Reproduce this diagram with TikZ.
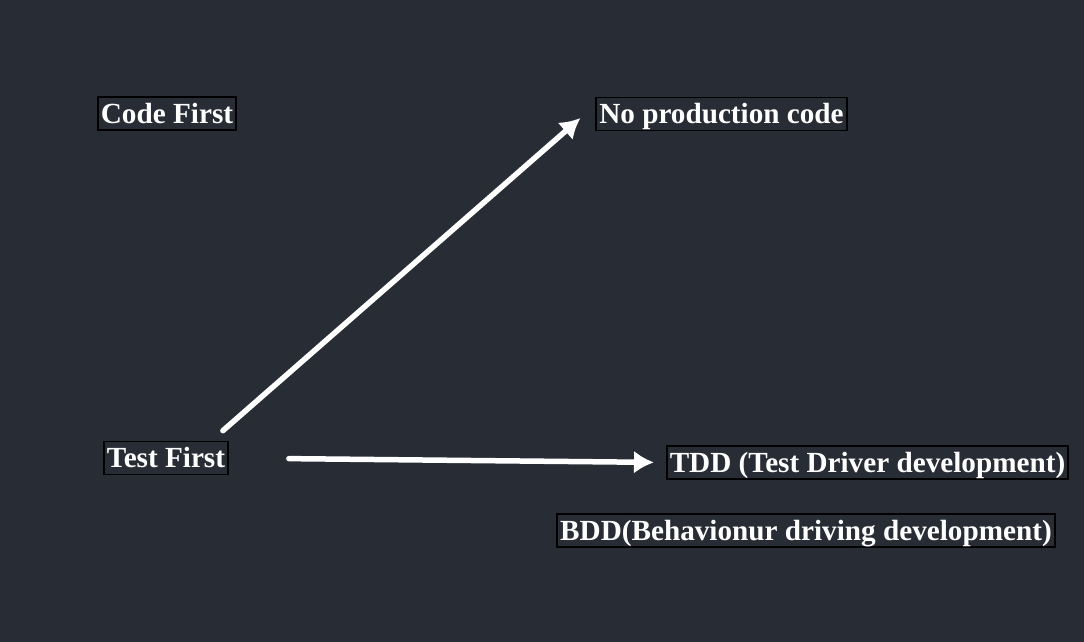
\documentclass[tikz,border=0pt]{standalone}
\usepackage{fontspec}
\setmainfont{Liberation Serif}
\usetikzlibrary{arrows.meta}
\definecolor{bgdark}{RGB}{40,44,52}

\begin{document}
\begin{tikzpicture}[x=1pt,y=-1pt,
  label box/.style={draw=black,line width=1.6pt,text=white,inner xsep=3pt,inner ysep=0pt,
    text height=26pt,text depth=7pt,font=\fontsize{29.2}{34}\selectfont\bfseries},
  big arrow/.style={draw=white,line width=5.5pt,line cap=round,
    -{Latex[length=20pt,width=23pt]}}]
\fill[bgdark] (0,0) rectangle (1084,642);
\useasboundingbox (0,0) rectangle (1084,642);
\node[label box] (codefirst) at (167,113.5) {Code First};
\node[label box] (noprod) at (721.5,114) {No production code};
\node[label box] (testfirst) at (166,458) {Test First};
\node[label box] (tdd) at (867.5,462.5) {TDD (Test Driver development)};
\node[label box] (bdd) at (806,530.5) {BDD(Behavionur driving development)};
\draw[big arrow] ([xshift=-6pt,yshift=10pt]testfirst.north east) -- ([xshift=-15pt,yshift=-4pt]noprod.west);
\draw[big arrow,shorten <=60pt,shorten >=12pt] (testfirst.east) -- (tdd.west);
\end{tikzpicture}
\end{document}
